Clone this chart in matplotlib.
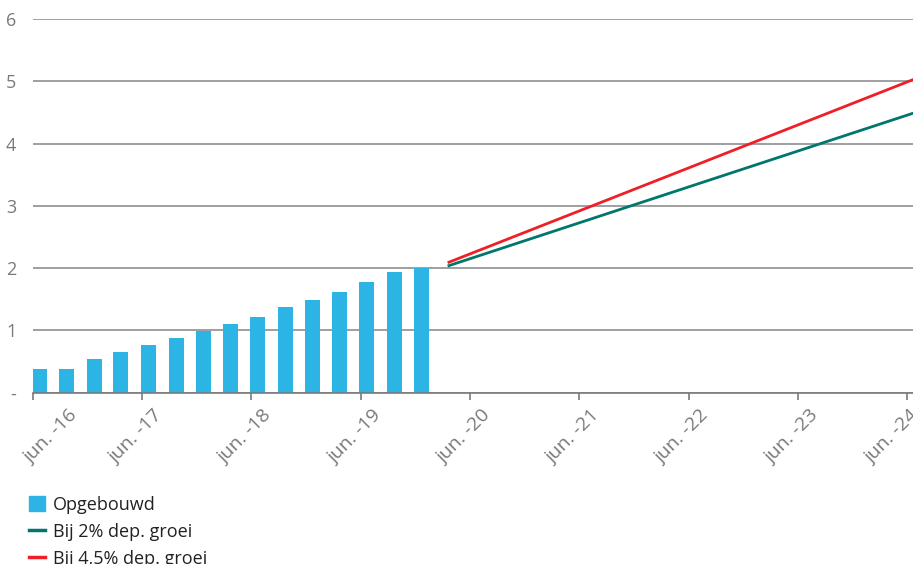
import matplotlib
matplotlib.use('Agg')
import matplotlib.pyplot as plt
import matplotlib.transforms as mtransforms
import pandas as pd
from matplotlib.lines import Line2D
from matplotlib.patches import Patch

plt.rcParams['font.family'] = ['Open Sans', 'DejaVu Sans']

# quarterly built-up amounts
bar_months = ['2016-06', '2016-09', '2016-12', '2017-03', '2017-06', '2017-09',
              '2017-12', '2018-03', '2018-06', '2018-09', '2018-12', '2019-03',
              '2019-06', '2019-09', '2019-12']
opgebouwd = [0.38, 0.38, 0.54, 0.65, 0.765, 0.88, 0.99, 1.10, 1.215, 1.375,
             1.49, 1.615, 1.78, 1.94, 2.01]

# projections
proj_months = ['2020-03', '2024-06']
groei_2 = [2.04, 4.49]
groei_45 = [2.095, 5.03]

tick_years = ['2016', '2017', '2018', '2019', '2020', '2021', '2022', '2023', '2024']
tick_labels = ['jun. -16', 'jun. -17', 'jun. -18', 'jun. -19', 'jun. -20',
               'jun. -21', 'jun. -22', 'jun. -23', 'jun. -24']
y_ticks = [0, 1, 2, 3, 4, 5, 6]
y_labels = ['-', '1', '2', '3', '4', '5', '6']

blue = '#2cb4e4'
green = '#00766c'
red = '#ee1f26'
grey = '#7a7a7a'

offset = pd.Timedelta(days=21)
bar_x = pd.to_datetime(bar_months) + offset
proj_x = pd.to_datetime(proj_months) + offset
ticks = pd.to_datetime([y + '-06-01' for y in tick_years])

fig = plt.figure(figsize=(9.13, 5.64), dpi=100)
ax = fig.add_axes([33 / 913, 1 - 392.7 / 564, 1 - 33 / 913, (392.7 - 19) / 564])

ax.bar(bar_x, opgebouwd, width=50, color=blue, zorder=3)
ax.plot(proj_x, groei_2, color=green, lw=2, zorder=4)
ax.plot(proj_x, groei_45, color=red, lw=2, zorder=4)

ax.set_ylim(0, 6)
ax.set_xlim(pd.Timestamp('2016-06-01'), pd.Timestamp('2024-06-20'))
ax.set_yticks(y_ticks)
ax.set_yticklabels(y_labels)
ax.yaxis.grid(True, color='#8f8f8f', lw=1.2, zorder=0)
ax.tick_params(axis='y', length=0, pad=12, labelsize=13, labelcolor=grey)

ax.set_xticks(ticks)
ax.set_xticklabels(tick_labels, rotation=45, ha='right', va='top', rotation_mode='anchor')
ax.tick_params(axis='x', length=5, color=grey, width=1.2, labelsize=14, labelcolor=grey, pad=5)
# labels sit a little right of their ticks; first and last are pushed inside
xlabels = ax.get_xticklabels()
for i, lbl in enumerate(xlabels):
    dx = 11
    if i == 0:
        dx = 35
    elif i == len(xlabels) - 1:
        dx = 2
    lbl.set_transform(lbl.get_transform() + mtransforms.ScaledTranslation(dx / 100, 0, fig.dpi_scale_trans))

for s in ['top', 'right', 'left']:
    ax.spines[s].set_visible(False)
ax.spines['bottom'].set_color(grey)
ax.spines['bottom'].set_linewidth(1.2)
ax.spines['bottom'].set_zorder(5)

handles = [Patch(color=blue), Line2D([], [], color=green, lw=2.5), Line2D([], [], color=red, lw=2.5)]
labels = ['Opgebouwd', 'Bij 2% dep. groei', 'Bij 4,5% dep. groei']
fig.legend(handles, labels, loc='upper left', bbox_to_anchor=(0.032, 0.121),
           frameon=False, fontsize=13, handlelength=0.85, handleheight=0.85,
           handletextpad=0.45, labelspacing=0.5, borderaxespad=0, borderpad=0,
           labelcolor='#222222')

fig.savefig('out.png', dpi=100)
